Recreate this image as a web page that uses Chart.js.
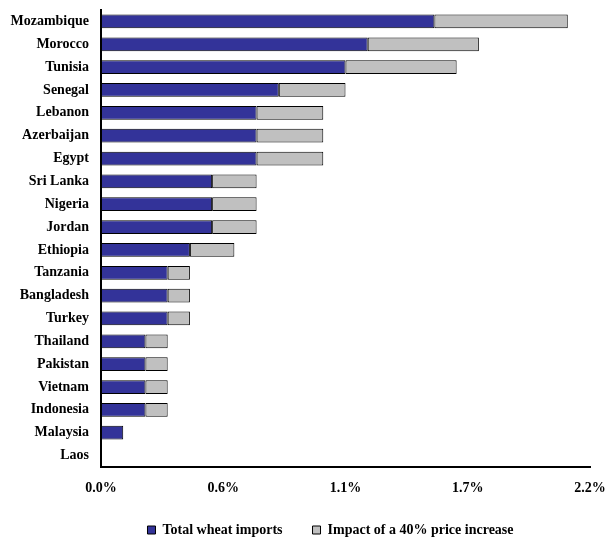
<!DOCTYPE html>
<html>
<head>
<meta charset="utf-8">
<script src="https://cdn.jsdelivr.net/npm/chart.js@4/dist/chart.umd.min.js"></script>
<style>
  html, body { margin: 0; padding: 0; background: #fff; }
  #wrap { width: 605px; height: 539px; }
</style>
</head>
<body>
<div id="wrap"><canvas id="chart"></canvas></div>
<script>
const PAISES = ['Mozambique', 'Morocco', 'Tunisia', 'Senegal', 'Lebanon', 'Azerbaijan', 'Egypt',
    'Sri Lanka', 'Nigeria', 'Jordan', 'Ethiopia', 'Tanzania', 'Bangladesh', 'Turkey',
    'Thailand', 'Pakistan', 'Vietnam', 'Indonesia', 'Malaysia', 'Laos'];
const IMPORTACOES = [1.5, 1.2, 1.1, 0.8, 0.7, 0.7, 0.7, 0.5, 0.5, 0.5, 0.4, 0.3, 0.3, 0.3, 0.2, 0.2, 0.2, 0.2, 0.1, 0];
const IMPACTO = [0.6, 0.5, 0.5, 0.3, 0.3, 0.3, 0.3, 0.2, 0.2, 0.2, 0.2, 0.1, 0.1, 0.1, 0.1, 0.1, 0.1, 0.1, 0, 0];
const ROTULOS_X = ['0.0%', '0.6%', '1.1%', '1.7%', '2.2%'];
const EIXO_MAX = 2.2;

const FONTE = "'Liberation Serif', 'Times New Roman', serif";
const bordaSeVisivel = (ctx) => (ctx.raw > 0 ? 1 : 0);

// ajusta a posição da legenda depois do layout
const deslocaLegenda = {
    id: 'deslocaLegenda',
    afterLayout(chart) {
        const leg = chart.legend;
        if (!leg) return;
        leg.left += 28;
        leg.right += 28;
        leg.top -= 4;
        leg.bottom -= 4;
    }
};

new Chart(document.getElementById('chart'), {
    type: 'bar',
    data: {
        labels: PAISES,
        datasets: [{
            label: 'Total wheat imports',
            data: IMPORTACOES,
            backgroundColor: '#333399',
            borderColor: '#000',
            borderWidth: bordaSeVisivel,
            borderSkipped: false
        }, {
            label: 'Impact of a 40% price increase',
            data: IMPACTO,
            backgroundColor: '#c0c0c0',
            borderColor: '#000',
            borderWidth: bordaSeVisivel,
            borderSkipped: false
        }]
    },
    plugins: [deslocaLegenda],
    options: {
        indexAxis: 'y',
        responsive: true,
        maintainAspectRatio: false,
        animation: false,
        layout: { padding: { left: 0, right: 0, top: 10, bottom: -12 } },
        datasets: { bar: { categoryPercentage: 0.6, barPercentage: 1 } },
        plugins: {
            tooltip: { enabled: false },
            legend: {
                position: 'bottom',
                labels: {
                    color: '#000',
                    font: { family: FONTE, size: 14, weight: 'bold' },
                    boxWidth: 8,
                    boxHeight: 8,
                    padding: 30
                }
            }
        },
        scales: {
            x: {
                stacked: true,
                min: 0,
                max: EIXO_MAX,
                ticks: {
                    stepSize: EIXO_MAX / (ROTULOS_X.length - 1),
                    color: '#000',
                    font: { family: FONTE, size: 14, weight: 'bold' },
                    padding: 13,
                    callback: (v, i) => ROTULOS_X[i]
                },
                grid: { display: false, drawTicks: false },
                border: { color: '#000', width: 2 },
                afterFit(scale) {
                    scale.height = 30;
                    scale.paddingLeft = 0;
                    scale.paddingRight = 15;
                }
            },
            y: {
                stacked: true,
                ticks: {
                    color: '#000',
                    font: { family: FONTE, size: 14, weight: 'bold' },
                    padding: 12,
                    autoSkip: false
                },
                grid: { display: false, drawTicks: false },
                border: { color: '#000', width: 2 },
                afterFit(scale) {
                    scale.width = 101;
                    scale.paddingTop = 0;
                    scale.paddingBottom = 0;
                }
            }
        }
    }
});
</script>
</body>
</html>
